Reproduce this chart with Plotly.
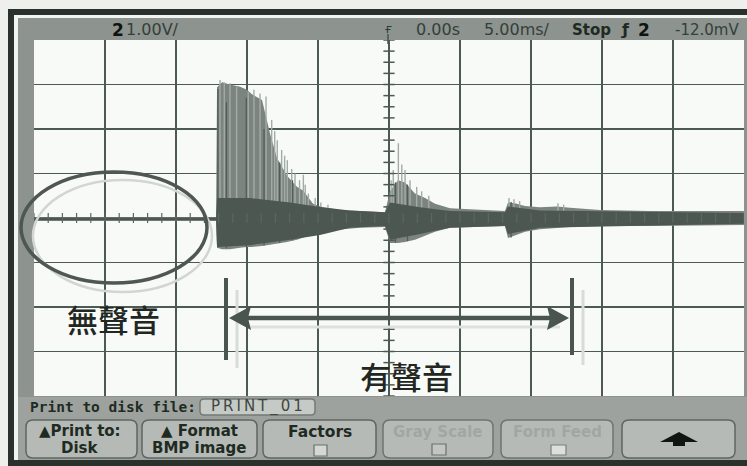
import plotly.graph_objects as go
import numpy as np

W, H = 747, 466

# ---------------- data (time in ms, voltage in V) ----------------
env_t = [-25.0, -12.18, -12.11, -11.76, -11.20, -10.49, -10.0, -9.65, -8.94, -8.38,
         -7.89, -7.18, -6.48, -6.06, -5.35, -4.65, -3.45, -2.04, -0.28, 0.07,
         0.63, 1.13, 1.83, 2.54, 3.24, 4.30, 6.41, 8.17, 8.38, 8.87,
         9.58, 10.63, 11.83, 12.75, 14.86, 18.38, 25.0]
env_top = [0.02, 0.02, 2.94, 3.05, 3.00, 2.95, 2.88, 2.78, 2.65, 1.90,
           1.35, 0.95, 0.70, 0.62, 0.32, 0.24, 0.18, 0.16, 0.13, 0.60,
           0.85, 0.80, 0.55, 0.45, 0.32, 0.22, 0.18, 0.16, 0.35, 0.33,
           0.27, 0.24, 0.26, 0.23, 0.18, 0.16, 0.16]
env_bot = [-0.07, -0.07, -0.67, -0.70, -0.70, -0.67, -0.65, -0.65, -0.63, -0.61,
           -0.58, -0.54, -0.49, -0.45, -0.36, -0.29, -0.25, -0.22, -0.20, -0.56,
           -0.56, -0.54, -0.49, -0.40, -0.31, -0.22, -0.20, -0.18, -0.45, -0.40,
           -0.31, -0.25, -0.22, -0.20, -0.18, -0.18, -0.16]

core_t = [-25.0, -12.18, -12.11, -9.79, -6.97, -4.86, -2.75, -0.28, 0.07, 2.18,
          4.30, 8.17, 8.38, 10.63, 25.0]
core_top = [0.01, 0.01, 0.45, 0.45, 0.35, 0.25, 0.17, 0.13, 0.35, 0.24,
            0.16, 0.13, 0.26, 0.17, 0.11]
core_bot = [-0.05, -0.05, -0.65, -0.61, -0.49, -0.38, -0.22, -0.18, -0.49, -0.36,
            -0.22, -0.18, -0.36, -0.22, -0.13]

spike_t = [-11.90, -11.60, -11.20, -10.73, -9.91, -9.51, -9.08, -8.66, -8.26, -8.05,
           -7.87, -7.56, -7.35, -7.16, -6.85, -6.62, -6.30, -6.03, -5.90, -5.68,
           -5.20, -4.80, -4.30, 0.15, 0.30, 0.66, 0.90, 1.13, 1.48, 1.95,
           2.30, 2.80, 8.45, 8.80, 9.20, 11.90, 12.30]
spike_v = [3.10, 3.05, 3.03, 2.95, 2.84, 2.88, 2.80, 2.73, 2.20, 1.95,
           1.75, 1.53, 1.40, 1.30, 1.10, 1.00, 0.85, 0.97, 0.75, 0.55,
           0.45, 0.35, 0.30, 0.85, 1.08, 1.68, 1.20, 1.08, 0.85, 0.70,
           0.60, 0.50, 0.45, 0.42, 0.38, 0.33, 0.30]

dark_t = [-12.05, -11.45, -10.05, -8.80, -7.70, -6.80, -5.00, 0.45, 1.30, 8.60]
dark_top = [2.90, 2.60, 2.70, 2.00, 1.25, 0.85, 0.30, 0.80, 0.75, 0.36]
dark_bot = [-0.66, -0.68, -0.65, -0.62, -0.56, -0.50, -0.33, -0.55, -0.52, -0.44]

x_ticks_minor = list(np.arange(-25, 25.01, 1.0))
y_ticks_minor = list(np.arange(-4, 4.001, 0.25))

# ---------------- helpers ----------------
X = lambda v: v / W
Y = lambda v: 1 - v / H

def rect(x0, y0, x1, y1, fill, line=None, lw=0, layer="below"):
    return dict(type="rect", xref="paper", yref="paper",
                x0=X(x0), x1=X(x1), y0=Y(y1), y1=Y(y0),
                fillcolor=fill, line=dict(color=line or fill, width=lw), layer=layer)

def rrect(x0, y0, x1, y1, r, fill, line, lw=1.5):
    p = (f"M {X(x0+r)},{Y(y0)} L {X(x1-r)},{Y(y0)} Q {X(x1)},{Y(y0)} {X(x1)},{Y(y0+r)} "
         f"L {X(x1)},{Y(y1-r)} Q {X(x1)},{Y(y1)} {X(x1-r)},{Y(y1)} "
         f"L {X(x0+r)},{Y(y1)} Q {X(x0)},{Y(y1)} {X(x0)},{Y(y1-r)} "
         f"L {X(x0)},{Y(y0+r)} Q {X(x0)},{Y(y0)} {X(x0+r)},{Y(y0)} Z")
    return dict(type="path", xref="paper", yref="paper", path=p,
                fillcolor=fill, line=dict(color=line, width=lw), layer="above")

def poly(pts, fill, line=None, lw=0):
    p = "M " + " L ".join(f"{X(a)},{Y(b)}" for a, b in pts) + " Z"
    return dict(type="path", xref="paper", yref="paper", path=p,
                fillcolor=fill, line=dict(color=line or fill, width=lw), layer="above")

def seg(x0, y0, x1, y1, color, w):
    return dict(type="line", xref="paper", yref="paper",
                x0=X(x0), y0=Y(y0), x1=X(x1), y1=Y(y1),
                line=dict(color=color, width=w), layer="above")

def txt(x, y, s, size, color, family="DejaVu Sans", xanchor="center", bold=False, weight=None):
    f = dict(size=size, color=color, family=family)
    if weight:
        f["weight"] = weight
    return dict(x=X(x), y=Y(y), xref="paper", yref="paper", text=(f"<b>{s}</b>" if bold else s),
                showarrow=False, xanchor=xanchor, yanchor="middle", font=f)

GRID = "#4c5a52"
INK = "#1f2b22"

fig = go.Figure()

fig.add_trace(go.Scatter(x=env_t + env_t[::-1], y=env_top + env_bot[::-1],
                         fill="toself", fillcolor="#7c8480", line=dict(width=0),
                         mode="lines", hoverinfo="skip"))
sx, sy = [], []
for t, v in zip(spike_t, spike_v):
    sx += [t, t, None]; sy += [0.0, v, None]
fig.add_trace(go.Scatter(x=sx, y=sy, mode="lines", line=dict(color="#a3aba6", width=1.4),
                         hoverinfo="skip"))
dx, dy = [], []
for t, a, b in zip(dark_t, dark_top, dark_bot):
    dx += [t, t, None]; dy += [b, a, None]
fig.add_trace(go.Scatter(x=dx, y=dy, mode="lines", line=dict(color="#535d56", width=1.3),
                         hoverinfo="skip"))
fig.add_trace(go.Scatter(x=core_t + core_t[::-1], y=core_top + core_bot[::-1],
                         fill="toself", fillcolor="#4d5751", line=dict(width=0),
                         mode="lines", hoverinfo="skip"))
fig.add_trace(go.Scatter(x=[0] * len(y_ticks_minor), y=y_ticks_minor, mode="markers",
                         marker=dict(symbol="line-ew", size=8, line=dict(color=GRID, width=1.5)),
                         hoverinfo="skip"))
fig.add_trace(go.Scatter(x=x_ticks_minor, y=[0] * len(x_ticks_minor), mode="markers",
                         marker=dict(symbol="line-ns", size=7, line=dict(color="#5a665e", width=1.2)),
                         hoverinfo="skip"))

shapes = [
    rect(8, 9, 747, 466, "#2a312c"),
    rect(14, 15, 747, 460, "#f2f4f2"),
    rect(18, 18, 747, 460, "#8d938e"),
    rect(18, 397, 747, 460, "#9da29e"),
    rect(34, 40, 744, 396, "#f8faf8"),
]

shapes += [
    dict(type="circle", xref="paper", yref="paper", x0=X(33), x1=X(212), y0=Y(292), y1=Y(180),
         line=dict(color="#d2d6d3", width=2.5), layer="above"),
    dict(type="circle", xref="paper", yref="paper", x0=X(21), x1=X(207), y0=Y(283), y1=Y(172),
         line=dict(color="#4f5751", width=3.5), layer="above"),
    seg(237, 290, 237, 368, "#d8dcd9", 3),
    seg(583, 290, 583, 365, "#d8dcd9", 3),
    seg(250, 327, 560, 327, "#dde0de", 3),
    seg(226, 278, 226, 360, "#4a554d", 4),
    seg(572, 278, 572, 355, "#4a554d", 4),
    seg(245, 318, 552, 318, "#4a554d", 4.5),
    poly([(229, 318), (251, 306), (248, 318), (251, 330)], "#4a554d"),
    poly([(569, 318), (547, 306), (550, 318), (547, 330)], "#4a554d"),
]

shapes += [
    rrect(200, 399, 315, 415, 4, "#c6cac6", "#747a75", 1.5),
    rrect(26, 420, 137, 458, 7, "#b6bab6", "#5f6661"),
    rrect(142, 420, 257, 458, 7, "#b6bab6", "#5f6661"),
    rrect(263, 420, 376, 458, 7, "#b6bab6", "#5f6661"),
    rrect(383, 420, 493, 458, 7, "#b6bab6", "#6e746f"),
    rrect(501, 420, 613, 458, 7, "#b6bab6", "#6e746f"),
    rrect(622, 420, 735, 458, 7, "#b6bab6", "#5f6661"),
    rect(314, 445, 327, 456, "#d4d8d4", "#6a706b", 1.2, layer="above"),
    rect(432, 444, 446, 455, "#c2c6c2", "#6a706b", 1.2, layer="above"),
    rect(551, 445, 566, 455, "#dcdfdc", "#7a807b", 1.2, layer="above"),
    poly([(679, 432), (698, 442), (685, 442), (685, 446), (673, 446), (673, 442), (660, 442)],
         "#111511"),
    seg(388, 34, 388, 44, "#4a554d", 1.5),
]

TS = "\u2009"
annotations = [
    txt(113, 318, "無聲音", 31, "#222722", "Noto Sans CJK TC", weight=500),
    txt(406, 375, "有聲音", 31, "#222722", "Noto Sans CJK TC", weight=500),
    txt(118, 30, "2", 17, "#101410", bold=True),
    txt(124, 30, "1.00V/", 16, "#34403a", xanchor="left"),
    txt(388, 29, "ғ", 12, "#2e3a31"),
    txt(438, 30, "0.00s", 16, "#34403a"),
    txt(517, 30, "5.00ms/", 16, "#34403a"),
    txt(591, 30, "Stop", 15, INK, bold=True),
    txt(625, 30, "ƒ", 16, INK, bold=True),
    txt(644, 30, "2", 17, "#101410", bold=True),
    txt(707, 30, "-12.0mV", 15, "#34403a"),
    txt(28, 407, "Print to disk file:", 14.5, INK, "DejaVu Sans Mono", xanchor="left", bold=True),
    txt(257, 406, TS.join("PRINT_01"), 15, "#3e4740"),
    txt(80, 431, "▲Print to:", 15, INK, bold=True),
    txt(80, 448, "Disk", 15, INK, bold=True),
    txt(199, 431, "▲ Format", 15, INK, bold=True),
    txt(199, 448, "BMP image", 15, INK, bold=True),
    txt(320, 432, "Factors", 15.5, INK, bold=True),
    txt(438, 432, "Gray Scale", 15, "#a2a6a2", bold=True),
    txt(557, 432, "Form Feed", 15, "#a2a6a2", bold=True),
]

fig.update_layout(
    width=W, height=H, margin=dict(l=0, r=0, t=0, b=0),
    paper_bgcolor="#eef0ec", plot_bgcolor="#f8faf8",
    showlegend=False, shapes=shapes, annotations=annotations,
    xaxis=dict(domain=[X(34), X(744)], range=[-25, 25], dtick=5, tick0=0,
               showgrid=True, gridcolor=GRID, gridwidth=2, zeroline=True,
               zerolinecolor=GRID, zerolinewidth=2, showticklabels=False,
               ticks="", showline=False, fixedrange=True),
    yaxis=dict(domain=[Y(396), Y(40)], range=[-4, 4], dtick=1, tick0=0,
               showgrid=True, gridcolor=GRID, gridwidth=1.5, zeroline=True,
               zerolinecolor=GRID, zerolinewidth=1.5, showticklabels=False,
               ticks="", showline=False, fixedrange=True),
)

fig.write_html("out.html", config={"displayModeBar": False, "staticPlot": True},
               post_script="document.body.style.margin='0';document.body.style.background='#eef0ec';")
